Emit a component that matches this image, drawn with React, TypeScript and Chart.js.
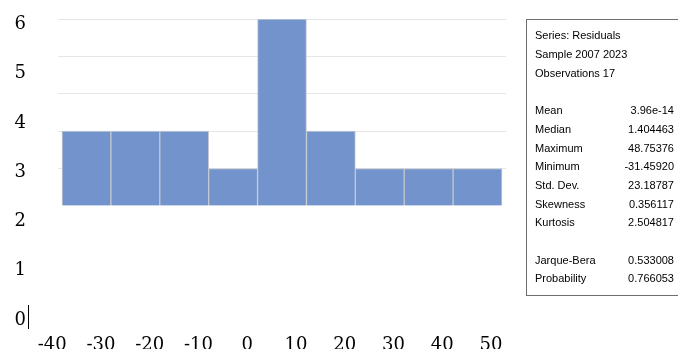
import React, { useEffect, useRef } from "react";
import { Chart, registerables } from "chart.js";

Chart.register(...registerables);

// ---- data ----
const binStarts = [-40, -30, -20, -10, 0, 10, 20, 30, 40];
const binWidth = 10;
const counts = [2, 2, 2, 1, 5, 2, 1, 1, 1];
const xTickLabels = [-40, -30, -20, -10, 0, 10, 20, 30, 40, 50];
const yTickLabels = [0, 1, 2, 3, 4, 5, 6];

const headerLines = ["Series: Residuals", "Sample 2007 2023", "Observations 17"];
const statNames = ["Mean", "Median", "Maximum", "Minimum", "Std. Dev.", "Skewness", "Kurtosis"];
const statValues = ["3.96e-14", "1.404463", "48.75376", "-31.45920", "23.18787", "0.356117", "2.504817"];
const testNames = ["Jarque-Bera", "Probability"];
const testValues = ["0.533008", "0.766053"];

const tickFont = { family: "'DejaVu Serif', serif", size: 18 };

const zeroPad = (s: any) => {
  s.paddingTop = 0;
  s.paddingBottom = 0;
  s.paddingLeft = 0;
  s.paddingRight = 0;
};

const cursorPlugin = {
  id: "zeroMark",
  afterDraw(chart: any) {
    const s = chart.scales.y2;
    if (!s) return;
    const y0 = s.getPixelForValue(0);
    const ctx = chart.ctx;
    ctx.save();
    ctx.strokeStyle = "#000";
    ctx.lineWidth = 1;
    ctx.beginPath();
    ctx.moveTo(28.5, y0 - 13);
    ctx.lineTo(28.5, y0 + 11);
    ctx.stroke();
    ctx.restore();
  },
};

export default function App() {
  const ref = useRef<HTMLCanvasElement | null>(null);

  useEffect(() => {
    if (!ref.current) return;
    const chart = new Chart(ref.current, {
      type: "bar",
      data: {
        datasets: [
          {
            data: binStarts.map((b, i) => ({ x: b + binWidth / 2, y: counts[i] })),
            backgroundColor: "#7293cb",
            borderColor: "#c4c8d0",
            borderWidth: 1,
            barPercentage: 1,
            categoryPercentage: 1,
            xAxisID: "x",
            yAxisID: "y",
          } as any,
        ],
      },
      options: {
        animation: false,
        responsive: false,
        maintainAspectRatio: false,
        events: [],
        layout: { padding: { left: 0, right: 172, top: 19, bottom: 0 } },
        plugins: { legend: { display: false }, tooltip: { enabled: false } },
        scales: {
          x: {
            type: "linear",
            display: false,
            offset: false,
            grid: { offset: false },
            min: -40.82,
            max: 50.82,
            afterFit: zeroPad,
          },
          y: {
            type: "linear",
            position: "right",
            min: -3,
            max: 5,
            ticks: { display: false, stepSize: 1 },
            grid: {
              drawTicks: false,
              color: (c: any) => (c.tick && c.tick.value >= 1 ? "#e6e6e6" : "rgba(0,0,0,0)"),
            },
            border: { display: false },
            afterFit: (s: any) => {
              s.width = 0;
              zeroPad(s);
            },
          },
          x2: {
            type: "linear",
            position: "bottom",
            offset: false,
            min: -38.82,
            max: 53.08,
            grid: { display: false, drawTicks: false, offset: false },
            border: { display: false },
            afterBuildTicks: (s: any) => {
              s.ticks = xTickLabels.map((v) => ({ value: v }));
            },
            ticks: {
              autoSkip: false,
              maxRotation: 0,
              padding: 17,
              font: tickFont,
              color: "#000",
              callback: (v: any) => String(v),
            },
            afterFit: (s: any) => {
              s.height = 31;
              zeroPad(s);
            },
          },
          y2: {
            type: "linear",
            position: "left",
            min: 0,
            max: 6.07,
            grid: { display: false, drawTicks: false },
            border: { display: false },
            afterBuildTicks: (s: any) => {
              s.ticks = yTickLabels.map((v) => ({ value: v }));
            },
            ticks: {
              padding: 32,
              labelOffset: 2,
              font: tickFont,
              color: "#000",
              callback: (v: any) => String(v),
            },
            afterFit: (s: any) => {
              s.width = 58;
              zeroPad(s);
            },
          },
        } as any,
      },
      plugins: [cursorPlugin],
    });
    return () => chart.destroy();
  }, []);

  const rowStyle: React.CSSProperties = {
    display: "flex",
    justifyContent: "space-between",
    height: 18.7,
    lineHeight: "18.7px",
    whiteSpace: "nowrap",
  };

  return (
    <div style={{ position: "fixed", left: 0, top: 0, width: 678, height: 349, overflow: "hidden", background: "#fff" }}>
      <canvas ref={ref} width={678} height={349} style={{ position: "absolute", left: 0, top: 0, width: 678, height: 349 }} />
      <div
        style={{
          position: "absolute",
          left: 526,
          top: 19,
          width: 170,
          height: 277,
          boxSizing: "border-box",
          border: "1px solid #6e6e6e",
          fontFamily: "'Liberation Sans', Arial, sans-serif",
          fontSize: 11,
          color: "#000",
          paddingTop: 6.4,
          paddingLeft: 8,
        }}
      >
        <div style={{ width: 139 }}>
          {headerLines.map((t) => (
            <div key={t} style={rowStyle}>
              <span>{t}</span>
            </div>
          ))}
          <div style={rowStyle} />
          {statNames.map((n, i) => (
            <div key={n} style={rowStyle}>
              <span>{n}</span>
              <span>{statValues[i]}</span>
            </div>
          ))}
          <div style={rowStyle} />
          {testNames.map((n, i) => (
            <div key={n} style={rowStyle}>
              <span>{n}</span>
              <span>{testValues[i]}</span>
            </div>
          ))}
        </div>
      </div>
    </div>
  );
}
